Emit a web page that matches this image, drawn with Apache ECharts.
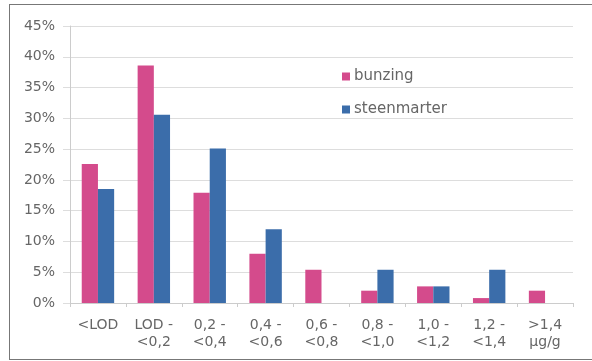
<!DOCTYPE html>
<html><head><meta charset="utf-8">
<script src="https://cdn.jsdelivr.net/npm/echarts@6/dist/echarts.min.js"></script>
<style>
html,body{margin:0;padding:0;background:#fff;}
#frame{position:absolute;left:9px;top:4px;width:600px;height:356px;border:1.5px solid #777;border-right:none;box-sizing:border-box;}
#c{position:absolute;left:0;top:0;width:592px;height:361px;}
</style></head><body>
<div id="frame"></div>
<div id="c"></div>
<script>
const categories = ["<LOD", "LOD -\n<0,2", "0,2 -\n<0,4", "0,4 -\n<0,6", "0,6 -\n<0,8", "0,8 -\n<1,0", "1,0 -\n<1,2", "1,2 -\n<1,4", ">1,4\nµg/g"];
const bunzing = [22.6, 38.6, 17.9, 8.0, 5.4, 2.0, 2.7, 0.8, 2.0];
const steenmarter = [18.5, 30.6, 25.1, 12.0, 0, 5.4, 2.7, 5.4, 0];
const seriesNames = ["bunzing", "steenmarter"];

const chart = echarts.init(document.getElementById('c'));
const txt = {color:'#666', fontFamily:'"DejaVu Sans", sans-serif', fontSize:14};
chart.setOption({
  animation:false,
  grid:{left:70, right:19, top:26, bottom:58},
  legend:{
    orient:'vertical', left:337, top:64, itemWidth:8, itemHeight:8, itemGap:18,
    icon:'rect', textStyle:Object.assign({}, txt, {fontSize:15, padding:[0,0,0,-1]}),
    data:seriesNames
  },
  xAxis:{
    type:'category', data:categories,
    axisLine:{lineStyle:{color:'#ccc'}},
    axisTick:{show:true, length:4, lineStyle:{color:'#ccc'}},
    axisLabel:Object.assign({}, txt, {lineHeight:17, margin:14, interval:0})
  },
  yAxis:{
    type:'value', min:0, max:45, interval:5,
    axisLine:{show:true, lineStyle:{color:'#ccc'}},
    axisTick:{show:true, length:7, lineStyle:{color:'#ddd'}},
    splitLine:{lineStyle:{color:'#ddd'}},
    axisLabel:Object.assign({}, txt, {margin:15, formatter:v=>v+'%'})
  },
  series:[
    {name:seriesNames[0], type:'bar', data:bunzing, itemStyle:{color:'#d44b8c'}, barGap:'0%', barCategoryGap:'42%'},
    {name:seriesNames[1], type:'bar', data:steenmarter, itemStyle:{color:'#3b6daa'}, barGap:'0%', barCategoryGap:'42%'}
  ]
});
</script>
</body></html>
